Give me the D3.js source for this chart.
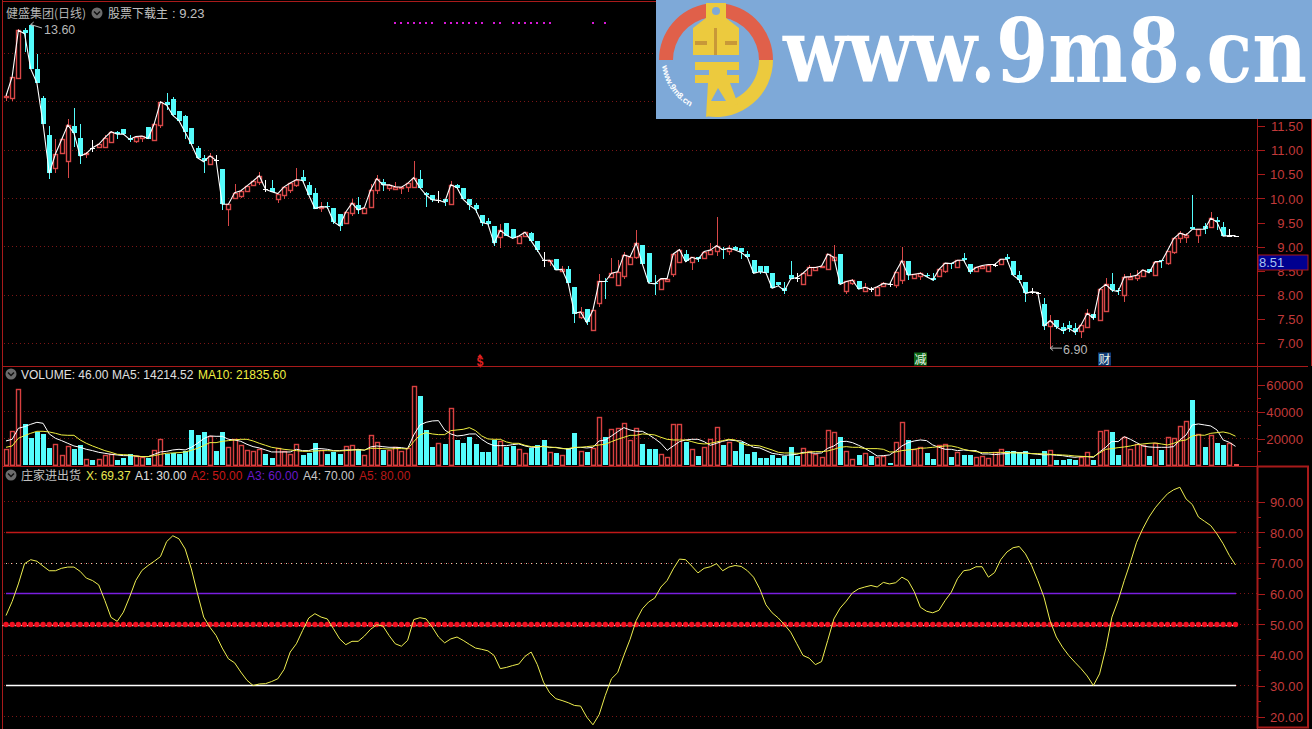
<!DOCTYPE html>
<html><head><meta charset="utf-8">
<script src="https://cdnjs.cloudflare.com/ajax/libs/d3/7.8.5/d3.min.js"></script>
<style>html,body{margin:0;padding:0;background:#000;overflow:hidden}svg{display:block}</style>
</head><body><svg id="c" width="1312" height="729"></svg>
<script>
const opens=[12.10,12.08,12.48,13.48,13.60,12.68,12.07,11.31,10.63,10.92,
10.77,11.50,11.26,10.90,11.05,11.06,11.08,11.17,11.38,11.43,
11.26,11.19,11.24,11.48,11.22,11.52,12.00,12.06,11.81,11.70,
11.45,11.05,10.83,10.72,10.79,10.61,9.78,10.02,10.06,10.16,
10.27,10.34,10.19,10.22,10.00,10.07,10.17,10.28,10.45,10.28,
10.12,9.82,9.85,9.81,9.67,9.50,9.70,9.86,9.70,9.81,
10.19,10.34,10.21,10.19,10.22,10.23,10.24,10.41,10.12,10.08,
9.96,9.98,9.88,10.28,10.21,9.98,9.86,9.66,9.54,9.43,
9.19,9.50,9.36,9.07,9.21,9.28,9.12,8.72,8.71,8.74,
8.48,8.54,8.17,7.55,7.70,7.28,7.83,8.30,8.37,8.21,
8.39,8.64,8.78,9.03,8.86,8.25,8.14,8.29,8.43,8.69,
8.84,8.67,8.79,8.77,8.85,8.92,8.95,8.90,8.99,8.97,
8.85,8.72,8.60,8.60,8.45,8.26,8.15,8.41,8.36,8.22,
8.40,8.50,8.57,8.53,8.71,8.85,8.08,8.24,8.29,8.08,
8.12,8.01,8.17,8.22,8.21,8.31,8.71,8.34,8.39,8.41,
8.35,8.38,8.50,8.66,8.57,8.76,8.64,8.48,8.57,8.50,
8.63,8.63,8.79,8.71,8.41,8.26,8.07,8.05,7.81,7.36,
7.48,7.34,7.38,7.31,7.26,7.33,7.60,7.47,7.66,8.22,
8.10,7.99,8.34,8.34,8.40,8.53,8.43,8.72,8.67,8.88,
9.17,9.19,9.40,9.23,9.43,9.41,9.55,9.40,9.23,9.23];
const highs=[12.19,12.52,13.50,13.52,13.60,13.00,12.12,11.50,11.24,11.25,
11.64,11.88,11.55,10.97,11.21,11.14,11.31,11.40,11.40,11.43,
11.31,11.30,11.30,11.48,11.56,12.00,12.19,12.10,11.81,11.72,
11.45,11.08,10.90,10.93,10.90,10.61,9.88,10.30,10.18,10.26,
10.36,10.54,10.39,10.38,10.10,10.24,10.32,10.62,10.59,10.34,
10.21,9.93,9.92,9.81,9.67,9.72,9.98,10.02,9.81,10.30,
10.48,10.40,10.30,10.33,10.24,10.31,10.77,10.59,10.13,10.08,
10.16,9.99,10.36,10.30,10.21,9.98,9.90,9.66,9.59,9.43,
9.47,9.50,9.36,9.22,9.30,9.30,9.12,8.90,8.72,8.74,
8.60,8.60,8.17,7.76,7.70,7.69,8.43,8.36,8.76,8.72,
8.88,8.80,9.34,9.03,8.86,8.41,8.34,8.34,8.85,8.96,
8.93,8.78,8.79,8.90,9.08,9.61,9.00,9.03,9.01,8.97,
8.91,8.72,8.60,8.60,8.45,8.26,8.26,8.70,8.45,8.45,
8.62,8.57,8.60,8.85,9.03,8.85,8.28,8.33,8.29,8.24,
8.16,8.17,8.27,8.27,8.48,9.00,8.71,8.43,8.47,8.45,
8.45,8.53,8.67,8.66,8.72,8.86,8.64,8.57,8.61,8.63,
8.66,8.74,8.84,8.71,8.50,8.26,8.14,8.07,7.93,7.59,
7.48,7.42,7.47,7.42,7.38,7.72,7.60,8.12,8.36,8.45,
8.14,8.43,8.45,8.52,8.52,8.53,8.69,8.72,8.92,9.17,
9.33,9.28,10.07,9.36,9.50,9.71,9.62,9.51,9.36,9.23];
const lows=[12.02,12.01,12.48,13.03,12.68,12.39,11.54,10.40,10.52,10.92,
10.43,11.07,10.72,10.83,10.97,11.05,11.06,11.17,11.22,11.31,
11.17,11.15,11.17,11.24,11.22,11.45,11.83,11.70,11.60,11.24,
11.12,10.84,10.53,10.72,10.72,9.76,9.43,10.02,10.00,10.16,
10.27,10.28,10.14,10.14,9.91,9.98,10.12,10.24,10.34,10.07,
9.79,9.72,9.78,9.48,9.33,9.50,9.64,9.68,9.70,9.81,
10.10,10.16,10.16,10.17,10.09,10.14,10.24,10.22,9.83,9.93,
9.90,9.84,9.88,10.20,9.98,9.76,9.70,9.43,9.45,9.01,
8.97,9.24,9.17,9.07,9.21,9.12,8.90,8.57,8.60,8.52,
8.48,8.24,7.43,7.50,7.38,7.28,7.75,7.92,8.35,8.21,
8.33,8.62,8.75,8.64,8.25,7.99,8.12,8.28,8.37,8.69,
8.69,8.52,8.69,8.75,8.85,8.81,8.74,8.83,8.93,8.74,
8.78,8.45,8.43,8.46,8.14,8.19,8.02,8.33,8.26,8.22,
8.40,8.50,8.57,8.53,8.70,8.22,8.03,8.20,8.12,8.08,
8.07,8.01,8.17,8.16,8.14,8.22,8.32,8.34,8.32,8.38,
8.28,8.38,8.45,8.53,8.57,8.69,8.44,8.48,8.55,8.50,
8.58,8.63,8.69,8.41,8.24,7.86,8.02,8.03,7.28,6.90,
7.29,7.20,7.24,7.18,7.10,7.33,7.48,7.47,7.66,8.07,
7.99,7.86,8.34,8.30,8.40,8.46,8.43,8.55,8.62,8.84,
9.07,9.08,9.36,9.08,9.27,9.41,9.35,9.22,9.22,9.23];
const closes=[12.12,12.52,13.48,13.41,12.68,12.39,11.54,10.52,10.92,11.22,
11.52,11.35,10.88,10.93,11.05,11.12,11.26,11.38,11.33,11.33,
11.22,11.28,11.29,11.24,11.55,12.00,11.93,11.72,11.61,11.37,
11.12,10.84,10.76,10.88,10.79,9.88,9.88,10.12,10.16,10.26,
10.36,10.47,10.19,10.14,10.10,10.24,10.32,10.39,10.37,10.07,
9.79,9.83,9.82,9.52,9.43,9.72,9.90,9.76,9.81,10.17,
10.41,10.28,10.28,10.24,10.23,10.31,10.43,10.22,10.07,9.97,
9.96,9.92,10.28,10.22,9.98,9.86,9.77,9.50,9.47,9.07,
9.34,9.24,9.17,9.22,9.30,9.12,8.93,8.72,8.72,8.52,
8.53,8.24,7.62,7.65,7.43,7.69,8.28,8.28,8.45,8.48,
8.83,8.79,9.07,8.64,8.25,8.23,8.34,8.34,8.85,8.94,
8.69,8.78,8.74,8.90,8.93,9.02,8.94,8.97,8.93,8.88,
8.78,8.45,8.48,8.46,8.14,8.19,8.09,8.33,8.36,8.45,
8.57,8.57,8.60,8.85,8.78,8.22,8.28,8.31,8.12,8.16,
8.12,8.17,8.24,8.22,8.48,8.71,8.41,8.43,8.45,8.38,
8.31,8.53,8.66,8.65,8.72,8.72,8.48,8.57,8.61,8.63,
8.63,8.74,8.74,8.41,8.31,8.03,8.07,8.05,7.36,7.47,
7.34,7.26,7.31,7.23,7.38,7.62,7.52,8.12,8.22,8.10,
8.07,8.37,8.38,8.41,8.52,8.46,8.69,8.69,8.92,9.17,
9.28,9.24,9.36,9.36,9.36,9.59,9.51,9.22,9.23,9.23];
const volumes=[12000,25750,57000,31750,21000,25750,24500,13750,16000,7500,
14500,13000,16000,4500,5000,4500,8000,8250,5000,6000,
9000,7000,6000,6000,11500,19750,9500,10250,9000,11500,
27250,23500,25750,22000,11500,25750,14000,19750,15250,11500,
10750,12250,9250,6250,12750,11000,8500,15750,8500,10250,
17500,11500,9250,11000,9250,14250,15000,12750,7500,22500,
17250,12500,11500,13500,11000,12750,59500,52750,27250,14500,
17000,17000,42750,19750,17500,22000,16750,10750,10750,19750,
18250,14500,15500,12000,9000,13500,16000,19750,9750,10000,
7500,13500,24750,10500,10750,13000,36000,22000,27000,27750,
31500,19000,27750,16750,13000,13000,8250,6000,30750,30750,
18250,12000,7750,13750,19500,28500,16000,17500,11250,18000,
9250,10750,6250,6250,8500,6500,7500,14500,7750,12750,
10500,8500,6250,26250,24750,22000,10500,4500,8500,9000,
7750,6500,7250,2500,17250,32250,19750,12000,13500,10000,
5750,15000,15750,7000,10250,8750,8250,6250,7000,5250,
9750,12250,11500,11500,10500,11500,5750,5750,11500,11500,
4750,5000,5750,4750,6500,9750,5000,25500,26750,25750,
8500,21000,12000,15750,15250,7750,17000,12250,21000,20250,
29250,33000,49500,23250,14500,23000,17500,16000,17000,46];
const ma5=[18250,19500,27750,29000,30750,32250,31500,23500,20250,18500,
16500,14500,13500,12000,11000,9750,9000,8250,7750,7250,
7250,7000,6500,6500,8250,10000,10500,11500,12000,11500,
13500,16500,20000,22000,21750,21750,19500,19000,18000,15750,
14000,13000,11500,10000,10000,10000,10000,12000,11000,11000,
12500,12500,12000,11000,11000,11500,11500,12000,11250,13750,
14500,14000,13500,13500,13250,12500,22750,30250,32250,33250,
33500,26500,23500,22000,22500,23500,23500,19500,16500,14750,
14750,14750,15500,16000,14500,13500,13500,14500,13250,13500,
12750,12000,13250,13500,13000,13500,18250,19000,22000,25250,
28250,26500,25500,25500,23000,20000,16500,11250,14500,17750,
19000,19500,19500,17750,15000,16500,18000,19000,18500,18250,
16000,13500,13000,11000,9000,8250,7500,7750,8250,9750,
9500,9000,9250,12750,14500,17750,18000,17000,15000,12750,
10000,7000,7250,7750,10750,14500,17000,18250,19000,18500,
15250,13500,12000,12000,11000,11500,11000,11000,8500,8500,
8000,8500,8750,10000,9500,9500,8750,8250,7750,8000,
7500,7250,6500,6000,6500,6500,6000,10000,13500,18000,
17750,21500,19500,17000,14500,13750,13500,13500,13500,14000,
19000,22750,30250,31000,30250,29500,26500,19000,17250,14214];
const ma10=[13500,14500,20250,22250,24000,25500,25500,25000,24000,22750,
22500,22500,19000,16500,14500,12750,11000,9750,8250,8000,
7750,7000,6500,6500,7250,8250,9000,9250,9500,10000,
11250,12750,14750,17000,17000,18000,18500,19000,19500,19500,
18250,16500,15000,13500,12750,12000,11500,11000,10500,10500,
10750,11000,11000,10750,10750,11000,11500,11500,11500,12750,
12750,12500,12250,12500,12500,12250,17750,22750,24500,23500,
23000,23000,26000,26500,27000,28250,26000,22000,19750,19500,
19500,17500,16500,16500,15000,14000,14000,14000,13750,13250,
12500,12500,13500,13500,14000,14500,15250,15750,17750,19500,
21000,22500,22500,23500,23250,22750,21000,19500,19000,19000,
19000,17750,16500,16000,16500,17500,18500,19500,19000,16500,
15000,15000,14500,13000,11500,9750,9250,9250,9000,9000,
10000,10250,10250,10750,12000,13500,14000,13500,13500,12500,
12500,12500,12000,10000,10000,11000,11500,12000,12750,13000,
13500,14000,14500,14500,13500,12000,11000,10250,9500,9500,
9500,9750,9500,9250,9250,9000,8750,8750,8500,8250,
8000,7750,7500,7000,6750,6500,6500,9250,12000,12500,
13250,13750,14500,15500,16000,16500,16750,16000,15250,16500,
18250,19000,22000,22750,22500,24000,24500,25000,24000,21836];
const oscX=[52.9,57.5,63.2,69.8,71.1,70.6,69.0,67.5,67.5,68.3,
68.7,68.7,67.3,65.1,64.3,62.9,57.8,52.3,51.0,54.0,
58.9,64.3,67.6,69.2,70.6,72.1,77.0,78.9,77.9,74.6,
68.1,60.0,52.4,49.1,46.4,42.3,38.8,37.5,34.5,31.8,
30.1,30.6,30.7,31.4,32.3,35.3,41.0,43.7,48.0,52.1,
53.5,52.4,51.8,48.6,45.3,43.4,44.5,44.5,46.2,48.4,
49.9,49.5,46.4,43.7,42.9,44.8,51.6,52.2,51.8,49.1,
45.9,44.0,45.3,45.9,44.8,43.5,42.3,41.9,41.4,39.9,
35.6,36.0,36.6,37.1,39.6,41.0,36.9,31.2,27.7,25.8,
25.2,24.5,23.6,23.4,19.8,17.3,20.6,26.9,32.3,34.3,
39.9,45.1,51.3,55.1,57.3,58.6,62.2,64.3,68.1,71.3,
71.1,69.0,66.8,68.3,68.8,69.8,67.5,68.7,69.2,68.9,
67.5,65.4,61.6,56.4,53.8,52.1,49.9,47.5,43.7,39.9,
39.0,36.9,37.9,44.8,51.8,55.3,57.6,60.3,61.6,62.2,
62.7,62.2,63.7,63.2,63.6,65.4,64.3,60.7,55.6,54.3,
53.8,54.6,57.8,60.5,64.9,67.5,67.8,68.8,68.8,65.4,
66.9,71.1,73.6,75.0,75.4,73.0,69.2,64.3,58.9,51.1,
45.9,42.6,39.9,37.7,35.6,33.2,30.1,33.9,42.1,52.4,
57.8,64.3,70.3,76.8,81.2,85.0,88.0,90.4,92.6,93.9,
94.7,90.9,89.1,85.0,83.6,82.2,79.5,76.3,72.5,69.37];
const signalIdx=[63,64,65,66,67,68,69,71,72,73,74,75,76,77,79,80,82,83,84,85,86,87,88,95,97];
const priceTicks=[7,7.5,8,8.5,9,9.5,10,10.5,11,11.5];
const priceGrid=[7,8,9,10,11,12,13];
const volTicks=[20000,40000,60000];
const oscTicks=[20,30,40,50,60,70,80,90];
const dojiVolRed=[70,160,198,199];

const svg=d3.select("#c");
const n=closes.length, idx=d3.range(n);
const x=d3.scaleLinear().domain([0,199]).range([6,1235.5]);
const yP=d3.scaleLinear().domain([7,13]).range([343.3,53.5]);
const yV=d3.scaleLinear().domain([0,60000]).range([465.3,385.3]);
const yO=d3.scaleLinear().domain([20,90]).range([716.5,501.7]);
const RED="#a81a1a",LBL="#c23a3a",CY="#54fcfc",UP="#d84848",NUM="'Liberation Sans',Arial,sans-serif",CJK="'Noto Sans CJK SC',sans-serif";
const crisp=v=>Math.floor(v)+.5, px=v=>Math.round(v)+.5;

// grids
function grid(vals,y){svg.append("g").selectAll("line").data(vals).join("line")
 .attr("x1",4).attr("x2",1257).attr("y1",d=>crisp(y(d))).attr("y2",d=>crisp(y(d)))
 .attr("stroke","#7a1616").attr("stroke-dasharray","1 3");}
grid(priceGrid,yP);grid([20000,40000],yV);grid(oscTicks,yO);

// frame
const frame=[[2.5,0,2.5,729],[2,1.5,1312,1.5],[2,366.5,1308,366.5],[2,466.5,1308,466.5],[1257.5,0,1257.5,729],[1311.5,0,1311.5,366]];
svg.append("g").selectAll("line").data(frame).join("line").attr("x1",d=>d[0]).attr("y1",d=>d[1]).attr("x2",d=>d[2]).attr("y2",d=>d[3])
 .attr("stroke",RED).attr("stroke-width",1);
svg.append("rect").attr("x",1257.5).attr("y",466.5).attr("width",50.5).attr("height",261).attr("fill","none").attr("stroke",RED).attr("stroke-width",2);

// axes
function axis(scale,ticks,fmt){
 const g=svg.append("g").attr("transform","translate(1257.5,0)")
  .call(d3.axisRight(scale).tickValues(ticks).tickFormat(fmt).tickSize(7).tickPadding(0));
 g.select(".domain").remove();
 g.selectAll(".tick line").attr("stroke",RED).attr("shape-rendering","crispEdges");
 g.selectAll(".tick text").attr("x",45.5).attr("text-anchor","end").attr("fill",LBL).attr("dy","0.36em")
  .attr("font-family",NUM).attr("font-size",13).attr("letter-spacing","0.1px");
 return g;
}
axis(yP,priceTicks,d3.format(".2f"));
axis(yV,volTicks,d3.format("d"));
axis(yO,oscTicks,d3.format(".2f"));
svg.append("g").selectAll("line").data([10000,30000,50000]).join("line").attr("x1",1257).attr("x2",1261).attr("y1",d=>crisp(yV(d))).attr("y2",d=>crisp(yV(d))).attr("stroke",RED);
svg.append("g").selectAll("line").data([25,35,45,55,65,75,85]).join("line").attr("x1",1257).attr("x2",1261).attr("y1",d=>crisp(yO(d))).attr("y2",d=>crisp(yO(d))).attr("stroke",RED);

// current value box
svg.append("rect").attr("x",1258).attr("y",255).attr("width",50).attr("height",15).attr("fill","#000090").attr("stroke",RED);
svg.append("text").attr("x",1259).attr("y",267).text("8.51").attr("fill","#a8c4f0").attr("font-family",NUM).attr("font-size",13);

// candles
const col=i=>closes[i]>opens[i]?UP:closes[i]<opens[i]?CY:"#fff";
const up=i=>closes[i]>opens[i];
const gc=svg.append("g");
gc.selectAll("line").data(idx).join("line").attr("shape-rendering","crispEdges").attr("x1",i=>px(x(i))).attr("x2",i=>px(x(i)))
 .attr("y1",i=>yP(highs[i])).attr("y2",i=>yP(lows[i])).attr("stroke",col);
gc.selectAll("rect").data(idx).join("rect")
 .attr("shape-rendering",i=>up(i)?"auto":"crispEdges")
 .attr("x",i=>Math.round(x(i))-2+(up(i)?.5:0)).attr("width",i=>up(i)?4:5)
 .attr("y",i=>Math.round(yP(Math.max(opens[i],closes[i])))+(up(i)?.5:0))
 .attr("height",i=>Math.max(1,Math.round(Math.abs(yP(opens[i])-yP(closes[i])))))
 .attr("fill",i=>up(i)?"#000":col(i))
 .attr("stroke",i=>up(i)?UP:"none").attr("stroke-width",1.4);
const lineP=d3.line().x(i=>x(i)).y(i=>yP(closes[i]));
svg.append("path").attr("d",lineP(idx)).attr("fill","none").attr("stroke","#fff").attr("stroke-width",1.1);

// extreme labels
function note(xa,ya,xb,yb,tx,ty,t){
 svg.append("line").attr("x1",xa).attr("y1",ya).attr("x2",xb).attr("y2",yb).attr("stroke","#bbb");
 svg.append("path").attr("d",`M${xa+3},${ya-2.5}L${xa},${ya}L${xa+3},${ya+2.5}`).attr("fill","none").attr("stroke","#bbb");
 svg.append("text").attr("x",tx).attr("y",ty).text(t).attr("fill","#b8b8b8").attr("font-family",NUM).attr("font-size",12.5);
}
note(x(4),yP(13.6),42,28,44,34,"13.60");
note(x(169),yP(6.9),1062,yP(6.9),1063,354,"6.90");

// signals
svg.append("g").attr("shape-rendering","crispEdges").selectAll("rect").data(signalIdx).join("rect")
 .attr("x",i=>Math.round(x(i))-1).attr("y",22).attr("width",2).attr("height",2).attr("fill","#d818d8");
svg.append("path").attr("d","M477.5,357L480,354L482.5,357Z").attr("fill","#e02020");
svg.append("text").attr("x",480).attr("y",366).attr("text-anchor","middle").text("$").attr("fill","#e02020").attr("font-family",NUM).attr("font-weight","bold").attr("font-size",12);
function badge(cx,fill,t){
 svg.append("rect").attr("x",cx-6.5).attr("y",352.5).attr("width",13).attr("height",13).attr("fill",fill);
 svg.append("text").attr("x",cx).attr("y",363.5).attr("text-anchor","middle").text(t).attr("fill","#e8f4e8").attr("font-family",CJK).attr("font-size",12);
}
badge(920.5,"#106818","减");badge(1104.5,"#103c78","财");

// volume
const isUp=i=>up(i)||(closes[i]===opens[i]&&dojiVolRed.includes(i));
const last=n-1, hollow=i=>isUp(i)&&i!==last;
const gv=svg.append("g");
gv.selectAll("rect").data(idx).join("rect")
 .attr("shape-rendering",i=>hollow(i)?"auto":"crispEdges")
 .attr("x",i=>Math.round(x(i))-2+(hollow(i)?.5:0)).attr("width",i=>hollow(i)?4:5)
 .attr("y",i=>i===last?464:Math.round(yV(volumes[i]))+.5)
 .attr("height",i=>i===last?2:yV(0)-Math.round(yV(volumes[i]))-.5)
 .attr("fill",i=>i===last?"#e85050":isUp(i)?"none":CY).attr("stroke",i=>hollow(i)?"#d84040":"none").attr("stroke-width",1.4);
const lv=a=>d3.line().x(i=>x(i)).y(i=>yV(a[i]))(idx);
svg.append("path").attr("d",lv(ma5)).attr("fill","none").attr("stroke","#fff").attr("stroke-width",1);
svg.append("path").attr("d",lv(ma10)).attr("fill","none").attr("stroke","#f0f040").attr("stroke-width",1);

// oscillator
const hl=[[30,"#fff",1.3,null],[60,"#7a1ee0",1.4,null],[80,"#c01818",1.4,null],[70,"#d8d8b8",1,"1 4"]];
svg.append("g").selectAll("line").data(hl).join("line").attr("x1",6).attr("x2",1236).attr("y1",d=>crisp(yO(d[0]))).attr("y2",d=>crisp(yO(d[0])))
 .attr("stroke",d=>d[1]).attr("stroke-width",d=>d[2]).attr("stroke-dasharray",d=>d[3]);
const sym=d3.symbol().type(d3.symbolCircle).size(23);
const gd=svg.append("g");
gd.selectAll("path").data(idx).join("path").attr("d",sym).attr("transform",i=>`translate(${x(i)},${yO(50)})`).attr("fill","#f01020");
gd.selectAll("circle").data(idx).join("circle").attr("cx",i=>x(i)-3.1).attr("cy",yO(50)+1.2).attr("r",.7).attr("fill","#ffd8d8");
svg.append("path").attr("d",d3.line().x(i=>x(i)).y(i=>yO(oscX[i]))(idx)).attr("fill","none").attr("stroke","#eeee50").attr("stroke-width",1);

// header texts
function btn(cx,cy){
 svg.append("circle").attr("cx",cx).attr("cy",cy).attr("r",5.5).attr("fill","#6c6c6c");
 svg.append("path").attr("d",`M${cx-3},${cy-1.5}L${cx},${cy+1.5}L${cx+3},${cy-1.5}`).attr("fill","none").attr("stroke","#111").attr("stroke-width",1.5);
}
function txt(xx,yy,t,c,f,s){svg.append("text").attr("x",xx).attr("y",yy).text(t).attr("fill",c).attr("font-family",f||NUM).attr("font-size",s||12);}
txt(6,18,"健盛集团(日线)","#b4b4b4",CJK,12);btn(97,13);
txt(108,18,"股票下载主","#c0c0c0",CJK,12);
txt(172,18,": 9.23","#c0c0c0",NUM,13);
btn(11,374);
txt(21,379,"VOLUME: 46.00","#e0e0e0");txt(112,379,"MA5: 14214.52","#e0e0e0");txt(198,379,"MA10: 21835.60","#f0f040");
btn(11,475);
txt(21,480,"庄家进出货","#c0c0c0",CJK,12);
txt(86,480,"X: 69.37","#e8e850");txt(135,480,"A1: 30.00","#e0e0e0");txt(191,480,"A2: 50.00","#c81818");
txt(247,480,"A3: 60.00","#6a18c8");txt(303,480,"A4: 70.00","#c8c8c8");txt(359,480,"A5: 80.00","#b81818");

// watermark banner
const wm=svg.append("g");
wm.append("rect").attr("x",656).attr("y",0).attr("width",656).attr("height",119).attr("fill","#7ea9d8");
const arc=d3.arc();const c=[716,60];
wm.append("path").attr("transform",`translate(${c})`).attr("fill","#e0604a").attr("d",arc({innerRadius:43,outerRadius:57,startAngle:-Math.PI/2,endAngle:-0.16}));
wm.append("path").attr("transform",`translate(${c})`).attr("fill","#e0604a").attr("d",arc({innerRadius:43,outerRadius:57,startAngle:0.16,endAngle:Math.PI/2}));
wm.append("path").attr("transform",`translate(${c})`).attr("fill","#ecca3e").attr("d",arc({innerRadius:43,outerRadius:57,startAngle:Math.PI/2,endAngle:3.3}));
wm.append("path").attr("fill","#ecca3e").attr("d","M706,3H726V18L739,28V55H693V28L706,18Z");
wm.append("path").attr("fill","#ecca3e").attr("d","M695,62H739V70H695Z M695,75H739V83H695Z M709,70H727V75H709Z");
wm.append("path").attr("fill","#ecca3e").attr("d","M708,83H730L738,104L706,117Z");
wm.append("path").attr("fill","#7ea9d8").attr("d","M718,88L711,101H726Z");
wm.append("circle").attr("cx",716).attr("cy",11).attr("r",4).attr("fill","#7ea9d8");
wm.append("rect").attr("x",695).attr("y",41).attr("width",12).attr("height",4).attr("fill","#c89838");
wm.append("rect").attr("x",725).attr("y",41).attr("width",12).attr("height",4).attr("fill","#c89838");
wm.append("rect").attr("x",714).attr("y",28).attr("width",3).attr("height",27).attr("fill","#c89838");
wm.append("path").attr("id","wmArc").attr("fill","none").attr("d","M662,66A54,54 0 0 0 706,112");
wm.append("text").attr("fill","#fff").attr("font-family","'Liberation Sans',sans-serif").attr("font-weight","bold").attr("font-size",8.5)
 .append("textPath").attr("href","#wmArc").text("www.9m8.cn");
const brand=wm.append("text").text("www.9m8.cn").attr("fill","#fff").attr("font-family","'DejaVu Serif',serif").attr("font-weight","bold").attr("font-size",88);
const brandW=brand.node().getComputedTextLength();
brand.attr("transform",`translate(783,82) scale(${524/brandW},1)`);
</script></body></html>
